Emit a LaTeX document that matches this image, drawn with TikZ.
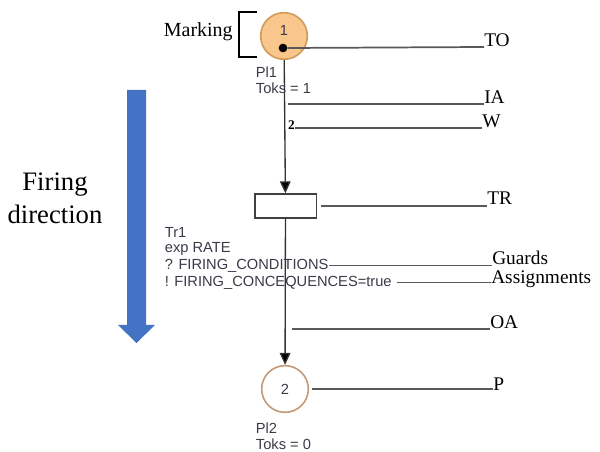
\documentclass[tikz,border=0pt]{standalone}
\usepackage{fontspec}
\setmainfont{Liberation Serif}
\setsansfont{Liberation Sans}
\usetikzlibrary{arrows.meta}

\definecolor{placefill}{HTML}{F9C68C}
\definecolor{placeline}{HTML}{D09A5C}
\definecolor{emptyline}{HTML}{C49A78}
\definecolor{firingblue}{HTML}{4472C4}
\definecolor{pnetgray}{HTML}{3A3A48}

\begin{document}
\begin{tikzpicture}[x=0.75pt,y=-0.75pt,>={Triangle[width=8pt,length=9pt]},
    place/.style={circle,draw=placeline,line width=1.2pt,minimum size=35pt,inner sep=0pt},
    trans/.style={rectangle,draw=black!75,line width=1pt,minimum width=46pt,minimum height=18pt,inner sep=0pt},
    token/.style={circle,fill=black,minimum size=6.5pt,inner sep=0pt},
    pnet/.style={font=\sffamily\fontsize{11}{12.8}\selectfont,text=pnetgray,inner sep=0.5pt,anchor=west},
    lbl/.style={font=\fontsize{14.5}{17}\selectfont,anchor=base west,inner sep=0pt},
    arc/.style={draw=black!80,line width=1pt},
    tie/.style={draw=black!65,line width=1.3pt}]
    \useasboundingbox (0,0) rectangle (600,452);

    % petri net
    \node[place,fill=placefill] (pl1) at (284,36) {};
    \node[font=\sffamily\fontsize{11}{12}\selectfont,text=pnetgray] (pl1num) at (284,30) {1};
    \node[token] (tok) at (283,48) {};
    \node[trans] (tr1) at (285.5,206) {};
    \node[place,draw=emptyline] (pl2) at (285,389) {};
    \node[font=\sffamily\fontsize{11}{12}\selectfont,text=pnetgray] (pl2num) at (285,389) {2};

    \path[arc] (pl1) edge[->] (tr1)
    (tr1) edge[->] (pl2);
    \node[font=\bfseries\fontsize{10}{11}\selectfont,inner sep=0pt] (weight) at (291.5,125) {2};

    \node[pnet] (pl1name) at (255,72) {Pl1};
    \node[pnet] (pl1toks) at (255,88) {Toks = 1};
    \node[pnet] (tr1name) at (164,232) {Tr1};
    \node[pnet] (tr1rate) at (164,249) {exp RATE};
    \node[pnet] (tr1cond) at (164,265.5) {? FIRING\_CONDITIONS};
    \node[pnet] (tr1conc) at (164,282.5) {! FIRING\_CONCEQUENCES=true};
    \node[pnet] (pl2name) at (255,428) {Pl2};
    \node[pnet] (pl2toks) at (255,444) {Toks = 0};

    % marking bracket
    \draw[line width=1pt] (257,12) -- (239,12) -- (239,57) -- (257,57);
    \node[font=\fontsize{15}{17}\selectfont,anchor=base east,inner sep=0pt] (marking) at (233,37) {Marking};

    % labels on the right
    \node[lbl] (to) at (484,47) {TO};
    \node[lbl] (ia) at (484,104) {IA};
    \node[lbl] (w) at (482,128) {W};
    \node[lbl] (tr) at (487,205) {TR};
    \node[lbl] (guards) at (492,265) {Guards};
    \node[lbl] (assign) at (491,284) {Assignments};
    \node[lbl] (oa) at (490,329) {OA};
    \node[lbl] (p) at (493,391) {P};

    \coordinate (iastart) at (288,104);
    \coordinate (oastart) at (292,329);

    \draw[tie] (tok.east) -- (to.base west);
    \draw[tie] (iastart) -- (ia.base west);
    \draw[tie] (weight.east |- w.base) -- (w.base west);
    \draw[tie] (tr1.east) ++(3pt,0) -- (tr1.east -| tr.base west);
    \draw[tie] (tr1cond.east) -- (tr1cond.east -| guards.base west);
    \draw[tie] (tr1conc.east) ++(3pt,0) -- (tr1conc.east -| assign.base west);
    \draw[tie] (oastart) -- (oa.base west);
    \draw[tie] (pl2.east) ++(2pt,0) -- (pl2.east -| p.base west);

    % firing direction
    \fill[firingblue] (127,90) -- (146,90) -- (146,325) -- (155,325) -- (136.5,343)
    -- (118,325) -- (127,325) -- cycle;
    \node[font=\fontsize{20}{25}\selectfont,align=center] (firing) at (55,198) {Firing\\direction};
  \end{tikzpicture}
\end{document}
